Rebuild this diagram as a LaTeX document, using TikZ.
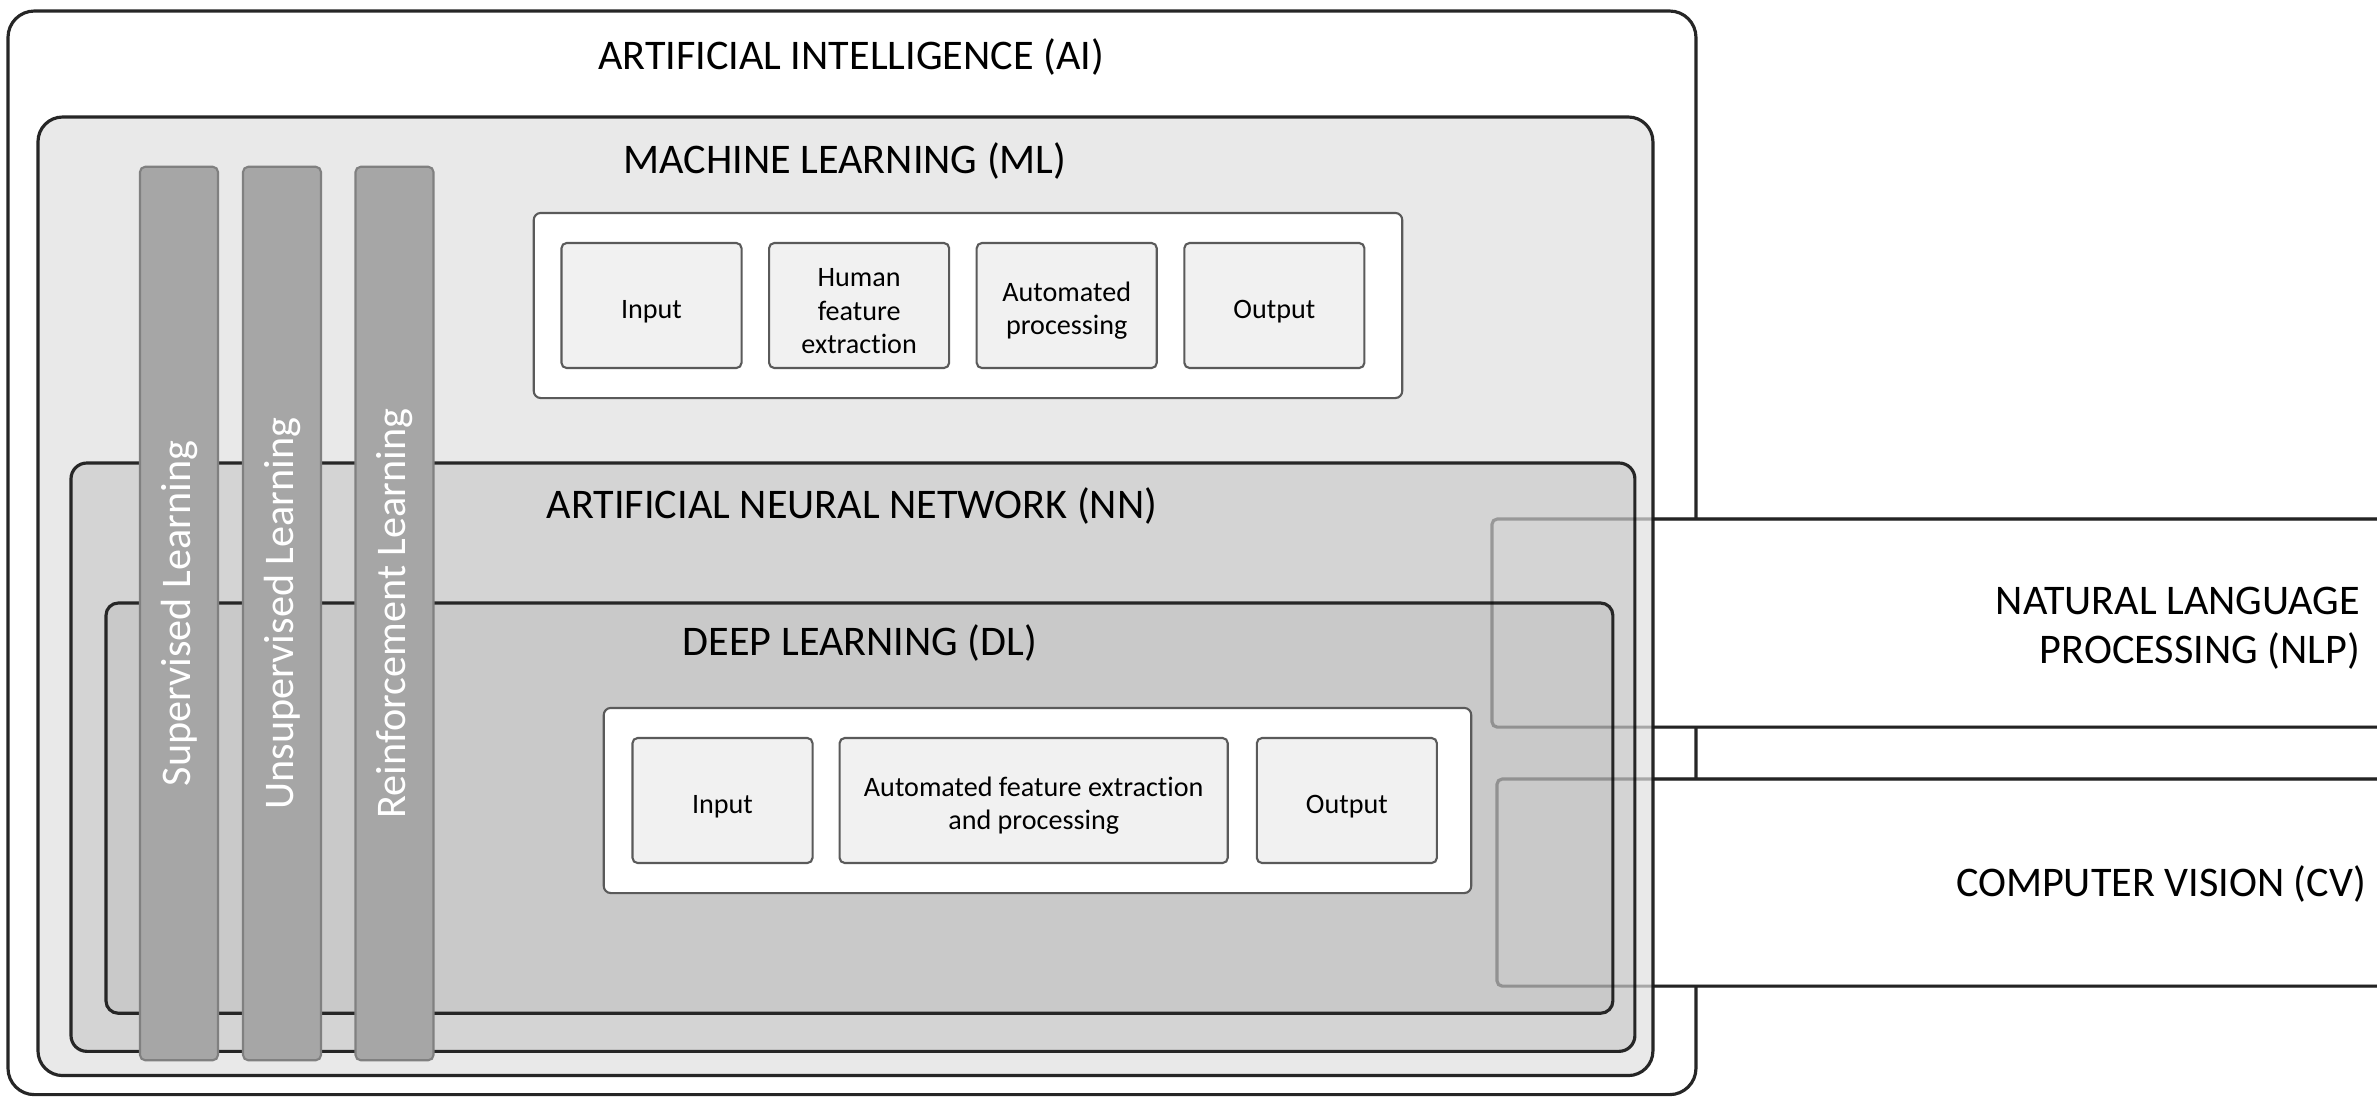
\documentclass[tikz,border=0pt]{standalone}
\usepackage{fontspec}
\setmainfont{Carlito}[Ligatures=NoCommon]
\usetikzlibrary{positioning}

\definecolor{mlgray}{HTML}{E9E9E9}
\definecolor{nngray}{HTML}{D4D4D4}
\definecolor{dlgray}{HTML}{C9C9C9}
\definecolor{bargray}{HTML}{A6A6A6}
\definecolor{boxgray}{HTML}{F1F1F1}
\definecolor{edgegray}{HTML}{5A5A5A}

\newcommand{\topstrut}{\rule{0pt}{8.4pt}}

\begin{document}
\begin{tikzpicture}[x=0.01cm, y=-0.01cm,
    every node/.style={inner sep=0pt, outer sep=0pt},
    layer/.style={draw=black!85, line width=0.9pt, anchor=north west},
    title/.style={font=\fontsize{12}{14}\selectfont, anchor=base},
    areabox/.style={draw=black!80, line width=0.9pt, fill=white, rounded corners=1.5pt, anchor=north west},
    ghost/.style={draw=black, draw opacity=0.28, line width=0.9pt, rounded corners=1.5pt},
    flow/.style={draw=edgegray, line width=0.6pt, fill=white, rounded corners=2pt, minimum width=8.68cm, minimum height=1.85cm},
    stage/.style={draw=edgegray, line width=0.6pt, fill=boxgray, rounded corners=1.5pt, minimum width=1.8cm, minimum height=1.25cm, align=center, font=\fontsize{8}{9.5}\selectfont},
    paradigm/.style={draw=black!50, line width=0.6pt, fill=bargray, rounded corners=1.5pt, rotate=90, minimum width=8.93cm, minimum height=0.78cm, text=white, font=\fontsize{12}{14}\selectfont},
    ]
  \clip (0,0) rectangle (2377,1096);

  % AI
  \node[layer, fill=white, rounded corners=7.5pt, minimum width=16.87cm, minimum height=10.83cm] (ai) at (8,11) {};
  \node[title] (aititle) at (851,69) {ARTIFICIAL INTELLIGENCE (AI)};

  % NLP and CV run out of the picture
  \node[areabox, minimum width=9.6cm, minimum height=2.08cm] (nlp) at (1492,519) {};
  \node[areabox, minimum width=9.6cm, minimum height=2.07cm] (cv) at (1497,779) {};
  \node[anchor=east, align=right, font=\fontsize{12}{14}\selectfont] (nlptext) at (2360,628) {NATURAL LANGUAGE\\PROCESSING (NLP)};
  \node[anchor=base east, font=\fontsize{12}{14}\selectfont] (cvtext) at (2366,896) {COMPUTER VISION (CV)};

  % ML
  \node[layer, fill=mlgray, rounded corners=7pt, minimum width=16.14cm, minimum height=9.58cm] (ml) at (38,117) {};
  \node[title] (mltitle) at (845,173) {MACHINE LEARNING (ML)};
  \node[flow] (mlflow) at (968,305.5) {};
  \node[stage] (mlin) at (651.5,305.5) {\topstrut Input};
  \node[stage, right=0.275cm of mlin] (mlhuman) {\topstrut Human\\feature\\extraction};
  \node[stage, right=0.275cm of mlhuman] (mlauto) {\topstrut Automated\\processing};
  \node[stage, right=0.275cm of mlauto] (mlout) {\topstrut Output};

  % NN
  \node[layer, fill=nngray, rounded corners=4.5pt, minimum width=15.63cm, minimum height=5.88cm] (nn) at (71,463) {};
  \node[title] (nntitle) at (852,518) {ARTIFICIAL NEURAL NETWORK (NN)};

  % DL
  \node[layer, fill=dlgray, rounded corners=3.5pt, minimum width=15.06cm, minimum height=4.1cm] (dl) at (106,603) {};
  \node[title] (dltitle) at (860,655) {DEEP LEARNING (DL)};
  \node[flow, minimum width=8.67cm] (dlflow) at (1037.5,800.5) {};
  \node[stage] (dlin) at (722.5,800.5) {\topstrut Input};
  \node[stage, minimum width=3.88cm, right=0.27cm of dlin] (dlauto) {\topstrut Automated feature extraction\\and processing};
  \node[stage, right=0.29cm of dlauto] (dlout) {\topstrut Output};

  % learning paradigms
  \node[paradigm] (supervised) at (179,613.5) {Supervised Learning};
  \node[paradigm] (unsupervised) at (282,613.5) {Unsupervised Learning};
  \node[paradigm] (reinforcement) at (394.5,613.5) {Reinforcement Learning};

  \draw[ghost] (nlp.north west) rectangle (nlp.south east);
  \draw[ghost] (cv.north west) rectangle (cv.south east);
\end{tikzpicture}
\end{document}
